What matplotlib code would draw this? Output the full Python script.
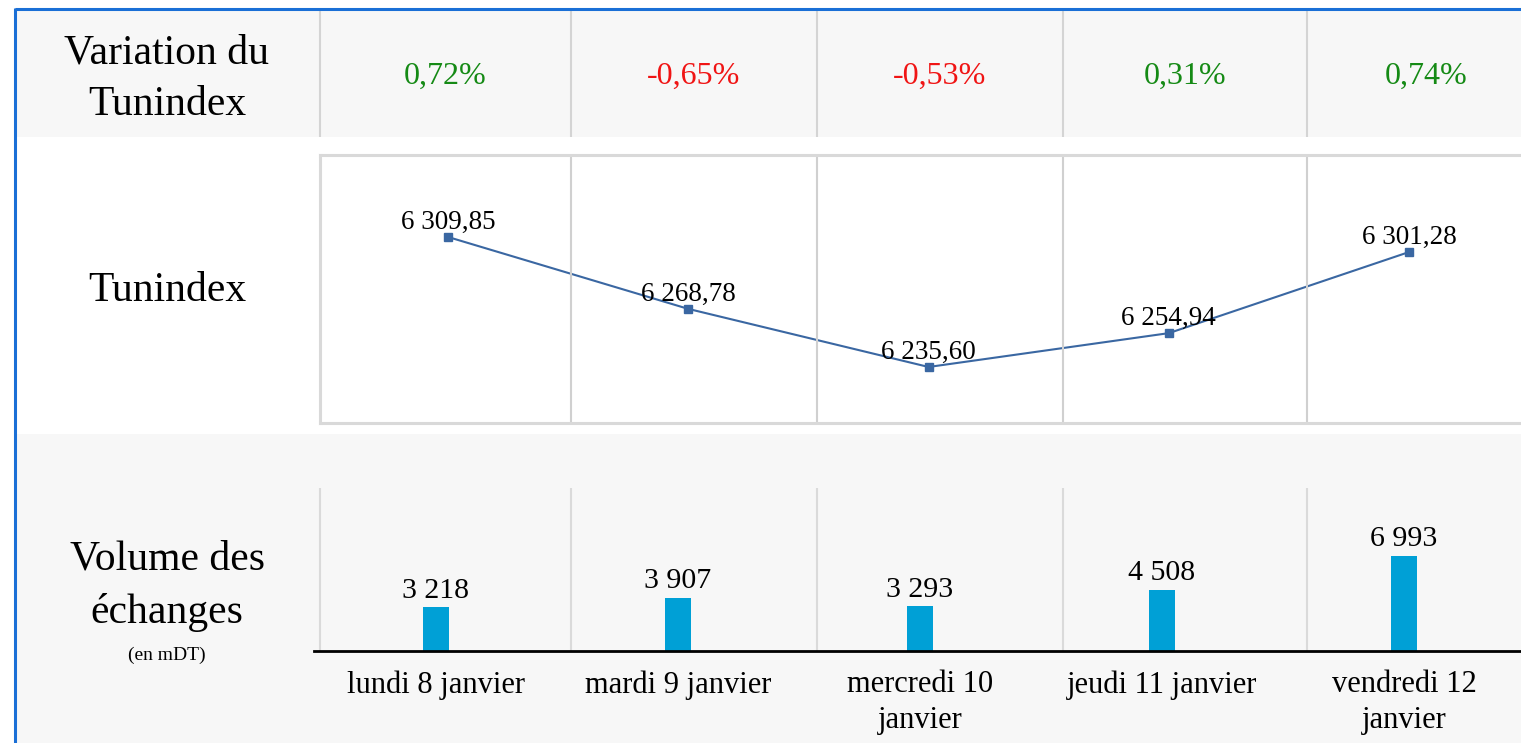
import matplotlib
matplotlib.use("Agg")
import matplotlib.pyplot as plt
from matplotlib.patches import Rectangle

plt.rcParams['font.family'] = ['Liberation Serif', 'DejaVu Serif']

# ---------------- data ----------------
days = ["lundi 8 janvier", "mardi 9 janvier", "mercredi 10\njanvier",
        "jeudi 11 janvier", "vendredi 12\njanvier"]
variation_pct = [0.72, -0.65, -0.53, 0.31, 0.74]
tunindex = [6309.85, 6268.78, 6235.60, 6254.94, 6301.28]
volume = [3218, 3907, 3293, 4508, 6993]

# ---------------- helpers ----------------
W, H = 1521, 743
DPI = 100


def rect(x0, y0, x1, y1):
    return [x0 / W, 1 - y1 / H, (x1 - x0) / W, (y1 - y0) / H]


def fr_num(v, dec):
    s = f"{v:,.{dec}f}"
    return s.replace(",", " ").replace(".", ",")


fig = plt.figure(figsize=(W / DPI, H / DPI), dpi=DPI)
fig.patch.set_facecolor("white")

# background / table layout axes (pixel coordinates)
bg = fig.add_axes([0, 0, 1, 1])
bg.set_xlim(0, W)
bg.set_ylim(H, 0)
bg.axis("off")

GRAY_BG = "#f7f7f7"
LINE_GRAY = "#d4d4d4"
col_edges = [320, 571, 817, 1063, 1307, 1545]

# bands
bg.add_patch(Rectangle((16, 10), W, 127, facecolor=GRAY_BG, edgecolor="none"))
bg.add_patch(Rectangle((16, 434), W, H, facecolor=GRAY_BG, edgecolor="none"))
# top band separators
for x in col_edges[:-1]:
    bg.plot([x, x], [10, 137], color=LINE_GRAY, lw=1.5, solid_capstyle="butt")
# bar area vertical lines
for x in col_edges[:-1]:
    bg.plot([x, x], [488, 651], color="#dadada", lw=1.5, solid_capstyle="butt")
# blue frame
bg.plot([15, W + 5], [8.5, 8.5], color="#1a6fd6", lw=2.2, solid_capstyle="butt")
bg.plot([15, 15], [7.5, H + 5], color="#1a6fd6", lw=2.2, solid_capstyle="butt")

# left labels
bg.text(167, 79, "Variation du\nTunindex", ha="center", va="center",
        fontsize=30, linespacing=1.42, color="black")
bg.text(167, 291, "Tunindex", ha="center", va="center", fontsize=30, color="black")
bg.text(167, 586, "Volume des\néchanges", ha="center", va="center",
        fontsize=30, linespacing=1.45, color="black")
bg.text(167, 655, "(en mDT)", ha="center", va="center", fontsize=14, color="black")

# variation row
for i, v in enumerate(variation_pct):
    cx = (col_edges[i] + col_edges[i + 1]) / 2
    txt = fr_num(v, 2) + "%"
    bg.text(cx, 76, txt, ha="center", va="center", fontsize=23,
            color="#158a15" if v >= 0 else "#f01414")

# ---------------- Tunindex line chart ----------------
axl = fig.add_axes(rect(320, 155, 1560, 423))
axl.set_facecolor("white")
xs = list(range(len(tunindex)))
axl.plot(xs, tunindex, color="#3a67a2", lw=1.5, marker="s", markersize=6,
         markerfacecolor="#3a67a2", markeredgecolor="#3a67a2")
for x, v in zip(xs, tunindex):
    axl.annotate(fr_num(v, 2), (x, v), xytext=(0, 6), textcoords="offset points",
                 ha="center", va="baseline", fontsize=19.5, color="black")
axl.set_xlim(-0.533, 4.628)
axl.set_ylim(6203.6, 6356.7)
axl.set_xticks([])
axl.set_yticks([])
for s in axl.spines.values():
    s.set_color("#d9d9d9")
    s.set_linewidth(2.2)
for x in col_edges[1:-1]:
    axl.axvline((x - 448) / 240.25, color="#d0d0d0", lw=1.5)

# ---------------- Volume bar chart ----------------
axb = fig.add_axes(rect(314, 488, 1560, 651))
axb.set_facecolor("none")
axb.bar(xs, volume, width=0.11, color="#00a0d6")
for x, v in zip(xs, volume):
    axb.annotate(fr_num(v, 0), (x, v), xytext=(0, 7), textcoords="offset points",
                 ha="center", va="baseline", fontsize=21.5, color="black")
axb.set_xlim(-0.504, 4.645)
axb.set_ylim(0, 12000)
axb.set_yticks([])
axb.set_xticks(xs)
axb.set_xticklabels(days, fontsize=22, linespacing=1.3)
axb.tick_params(axis="x", length=0, pad=14)
for side in ["top", "left", "right"]:
    axb.spines[side].set_visible(False)
axb.spines["bottom"].set_color("black")
axb.spines["bottom"].set_linewidth(2)

fig.savefig("out.png", dpi=DPI)
